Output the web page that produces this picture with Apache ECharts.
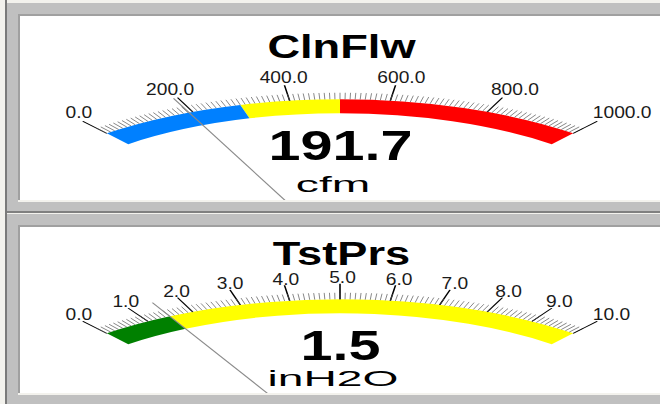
<!DOCTYPE html>
<html><head><meta charset="utf-8">
<script src="https://cdn.jsdelivr.net/npm/echarts@6/dist/echarts.min.js"></script>
<style>
html,body{margin:0;padding:0;background:#f3f2ed;width:660px;height:404px;overflow:hidden;}
body{position:relative;}
.abs{position:absolute;}
.clip{position:absolute;overflow:hidden;background:#ffffff;}
</style></head><body>
<!-- window frame -->
<div class="abs" style="left:5px;top:0;width:2px;height:404px;background:#7a7a7a"></div>
<div class="abs" style="left:7px;top:3px;width:653px;height:208px;background:#c0c0c0"></div>
<div class="abs" style="left:7px;top:211px;width:653px;height:2px;background:#808080"></div>
<div class="abs" style="left:7px;top:213px;width:653px;height:1px;background:#f3f2ed"></div>
<div class="abs" style="left:7px;top:214px;width:653px;height:190px;background:#c0c0c0"></div>
<div class="abs" style="left:18px;top:14px;width:642px;height:2px;background:#a0a0a0"></div>
<div class="abs" style="left:18px;top:14px;width:2px;height:188px;background:#a0a0a0"></div>
<div class="abs" style="left:18px;top:200px;width:642px;height:2px;background:#f3f2ed"></div>
<div class="abs" style="left:18px;top:225px;width:642px;height:2px;background:#a0a0a0"></div>
<div class="abs" style="left:18px;top:225px;width:2px;height:170px;background:#a0a0a0"></div>
<div class="abs" style="left:18px;top:393px;width:642px;height:2px;background:#f3f2ed"></div>
<!-- gauge panels -->
<div class="clip" style="left:20px;top:16px;width:640px;height:184px"><div id="g0" class="abs"></div></div>
<div class="clip" style="left:20px;top:227px;width:640px;height:166px"><div id="g1" class="abs"></div></div>
<!-- text layer -->
<div id="txt" class="abs" style="left:0;top:0;width:660px;height:404px;pointer-events:none"></div>
<script>
// ---- data ----
const titles = ['ClnFlw', 'TstPrs'];
const units = ['cfm', 'inH2O'];
const values = [191.7, 1.5];
const mins = [0, 0];
const maxs = [1000, 10];
const majorSplits = [5, 10];
const minorSplits = [20, 10];
const flowLabels = [0, 200, 400, 600, 800, 1000];
const pressLabels = [0, 1, 2, 3, 4, 5, 6, 7, 8, 9, 10];
const flowBandEnds = [300, 500, 1000];
const pressBandEnds = [1.5, 10];

// ---- styling / layout ----
const flowBandColors = ['#0080ff', '#ffff00', '#ff0000'];
const pressBandColors = ['#008000', '#ffff00'];
const tickLabels = [flowLabels, pressLabels];
const bandEnds = [flowBandEnds, pressBandEnds];
const bandColors = [flowBandColors, pressBandColors];
const SQ = 0.41, CX = 340, RO = 369, BAND = 34, START = 129.2, END = 50.8;
const panels = [
  {top: 16, cy: 250.6, titleY: 46, valueY: 145.4, unitY: 184.4, labelDy: -12},
  {top: 227, cy: 450.6, titleY: 253.4, valueY: 345.4, unitY: 378.6, labelDy: -10.5}
];

function gaugeOption(i) {
  const p = panels[i];
  const cyP = (p.cy - p.top) / SQ;
  const stops = bandEnds[i].map((e, k) => [(e - mins[i]) / (maxs[i] - mins[i]), bandColors[i][k]]);
  return {
    animation: false,
    series: [{
      type: 'gauge', center: [CX, cyP], radius: RO,
      startAngle: START, endAngle: END,
      min: mins[i], max: maxs[i], splitNumber: majorSplits[i],
      axisLine: {lineStyle: {width: BAND, color: stops}},
      splitLine: {distance: -(BAND + 38), length: 38, lineStyle: {color: '#000', width: 1.6}},
      axisTick: {splitNumber: minorSplits[i], distance: -(BAND + 16), length: 16, lineStyle: {color: '#555', width: 1}},
      axisLabel: {show: false},
      pointer: {show: true, icon: 'rect', length: 407, width: 1.6, offsetCenter: [0, 0], itemStyle: {color: '#8a8a8a'}},
      anchor: {show: false}, progress: {show: false}, title: {show: false}, detail: {show: false},
      data: [{value: values[i]}]
    }]
  };
}

[0, 1].forEach(i => {
  const p = panels[i];
  const el = document.getElementById('g' + i);
  const cyP = (p.cy - p.top) / SQ;
  el.style.left = '-20px'; el.style.top = '0px';
  el.style.width = '660px'; el.style.height = Math.ceil(cyP + 20) + 'px';
  el.style.transformOrigin = '0 0';
  el.style.transform = 'scaleY(' + SQ + ')';
  const c = echarts.init(el, null, {renderer: 'svg'});
  c.setOption(gaugeOption(i));
});

// ---- text layer ----
const elements = [];
function addText(str, x, y, font, sx, color) {
  elements.push({
    type: 'text', x: x, y: y, scaleX: sx, scaleY: 1, originX: 0, originY: 0, silent: true,
    style: {text: str, x: 0, y: 0, font: font, fill: color,
            align: 'center', verticalAlign: 'middle', textAlign: 'center', textVerticalAlign: 'middle'}
  });
}
const measureCtx = document.createElement('canvas').getContext('2d');
const LABEL_FONT = '16px "Liberation Sans", Arial, sans-serif';
const LABEL_SX = 1.2;
measureCtx.font = LABEL_FONT;
const RL = 396, LCX = 342.5;
[0, 1].forEach(i => {
  const p = panels[i];
  addText(titles[i], 341.5, p.titleY, 'bold 34px "Liberation Sans", Arial, sans-serif', 1.33, '#000');
  addText(values[i].toFixed(1), 340.5, p.valueY, 'bold 42px "Liberation Sans", Arial, sans-serif', 1.37, '#000');
  addText(units[i], 333, p.unitY, '22px "Liberation Sans", Arial, sans-serif', 2.1, '#000');
  tickLabels[i].forEach(v => {
    const f = (v - mins[i]) / (maxs[i] - mins[i]);
    const th = (START - f * (START - END)) * Math.PI / 180;
    const str = v.toFixed(1);
    const w = measureCtx.measureText(str).width * LABEL_SX;
    const x = LCX + RL * Math.cos(th) + (f - 0.5) * w;
    const y = p.cy - SQ * RL * Math.sin(th) + p.labelDy;
    addText(str, x, y, LABEL_FONT, LABEL_SX, '#1a1a1a');
  });
});
const txt = echarts.init(document.getElementById('txt'), null, {renderer: 'svg'});
txt.setOption({animation: false, graphic: {elements: elements}});
</script>
</body></html>
